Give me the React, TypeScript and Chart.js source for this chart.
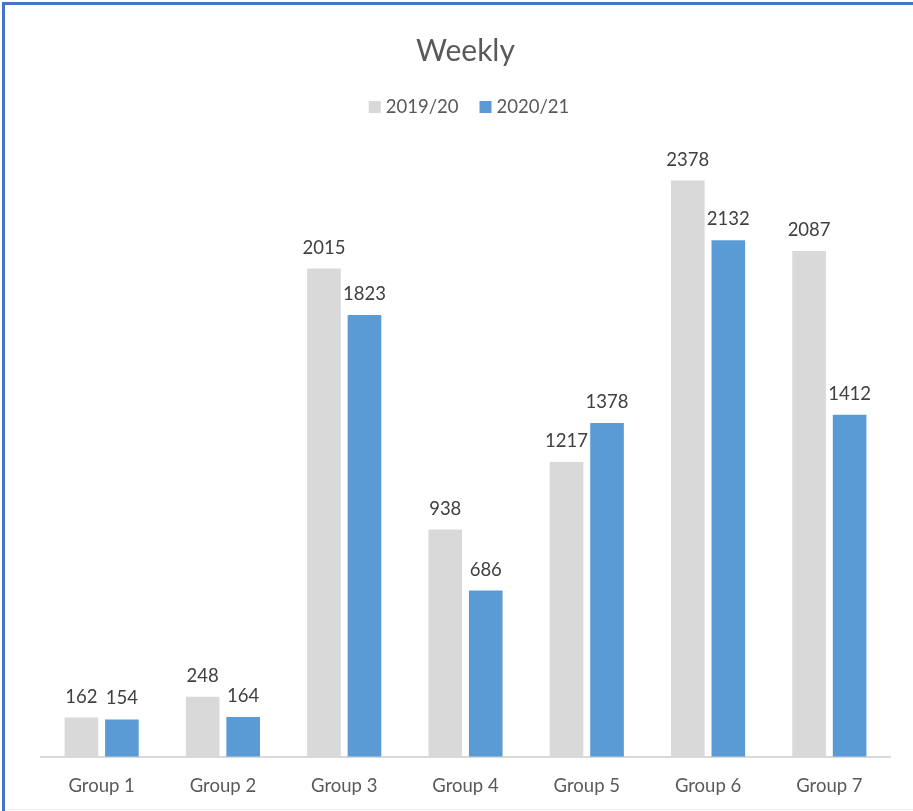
import React, { useEffect, useRef } from "react";
import { Chart, registerables } from "chart.js";

Chart.register(...registerables);

const categories = ["Group 1", "Group 2", "Group 3", "Group 4", "Group 5", "Group 6", "Group 7"];
const seriesNames = ["2019/20", "2020/21"];
const values2019 = [162, 248, 2015, 938, 1217, 2378, 2087];
const values2020 = [154, 164, 1823, 686, 1378, 2132, 1412];
const seriesColors = ["#d9d9d9", "#5b9bd5"];
const titleText = "Weekly";

const FONT = "Lato, 'Open Sans', sans-serif";

const valueLabels = {
  id: "valueLabels",
  afterDatasetsDraw(chart: any) {
    const ctx = chart.ctx;
    ctx.save();
    ctx.font = `18.5px ${FONT}`;
    ctx.fillStyle = "#404040";
    ctx.textAlign = "center";
    ctx.textBaseline = "alphabetic";
    chart.data.datasets.forEach((ds: any, di: number) => {
      const meta = chart.getDatasetMeta(di);
      meta.data.forEach((el: any, i: number) => {
        ctx.fillText(String(ds.data[i]), el.x, el.y - 15);
      });
    });
    ctx.restore();
  },
};

const customLegend = {
  id: "customLegend",
  afterDraw(chart: any) {
    const ctx = chart.ctx;
    ctx.save();
    ctx.font = `18.5px ${FONT}`;
    ctx.textBaseline = "middle";
    ctx.textAlign = "left";
    const box = 12;
    const gapText = 5;
    const gapItem = 21;
    const widths = seriesNames.map((n) => ctx.measureText(n).width);
    const total = widths.reduce((a, w) => a + box + gapText + w, 0) + gapItem * (seriesNames.length - 1);
    const ca = chart.chartArea;
    let x = (ca.left + ca.right) / 2 + 3.5 - total / 2;
    const y = 107;
    seriesNames.forEach((n, i) => {
      ctx.fillStyle = seriesColors[i];
      ctx.fillRect(x, y - box / 2, box, box);
      ctx.fillStyle = "#595959";
      ctx.fillText(n, x + box + gapText, y);
      x += box + gapText + widths[i] + gapItem;
    });
    ctx.restore();
  },
};

export default function App() {
  const ref = useRef<HTMLCanvasElement | null>(null);

  useEffect(() => {
    document.body.style.margin = "0";
    const canvas = ref.current;
    if (!canvas) return;
    const chart = new Chart(canvas, {
      type: "bar",
      data: {
        labels: categories,
        datasets: [
          { label: seriesNames[0], data: values2019, backgroundColor: seriesColors[0] },
          { label: seriesNames[1], data: values2020, backgroundColor: seriesColors[1] },
        ],
      },
      options: {
        responsive: false,
        animation: false,
        devicePixelRatio: 1,
        datasets: { bar: { categoryPercentage: 0.668, barPercentage: 0.83 } },
        layout: { padding: { top: 0, left: 41, right: 23, bottom: -4 } },
        plugins: {
          legend: { display: false },
          tooltip: { enabled: false },
          title: {
            display: true,
            text: titleText,
            color: "#595959",
            font: { family: FONT, size: 30, weight: "normal" },
            padding: { top: 33, bottom: 82 },
          },
        },
        scales: {
          x: {
            grid: { display: false, drawTicks: false },
            border: { display: true, color: "#d9d9d9", width: 2 },
            ticks: { color: "#595959", font: { family: FONT, size: 18.5 }, padding: 18 },
          },
          y: {
            display: false,
            min: 0,
            max: 2500,
          },
        },
      },
      plugins: [valueLabels, customLegend],
    });
    return () => chart.destroy();
  }, []);

  return (
    <div style={{ position: "relative", width: 913, height: 811, overflow: "hidden", background: "#fff" }}>
      <canvas ref={ref} width={913} height={811} style={{ position: "absolute", left: 0, top: 0 }} />
      <div
        style={{
          position: "absolute",
          left: 2,
          top: 2,
          width: 1000,
          height: 1000,
          border: "3px solid #4874c6",
          boxSizing: "border-box",
          pointerEvents: "none",
        }}
      />
      <div style={{ position: "absolute", left: 5, top: 809, width: 908, height: 1, background: "#eeeeee" }} />
    </div>
  );
}
